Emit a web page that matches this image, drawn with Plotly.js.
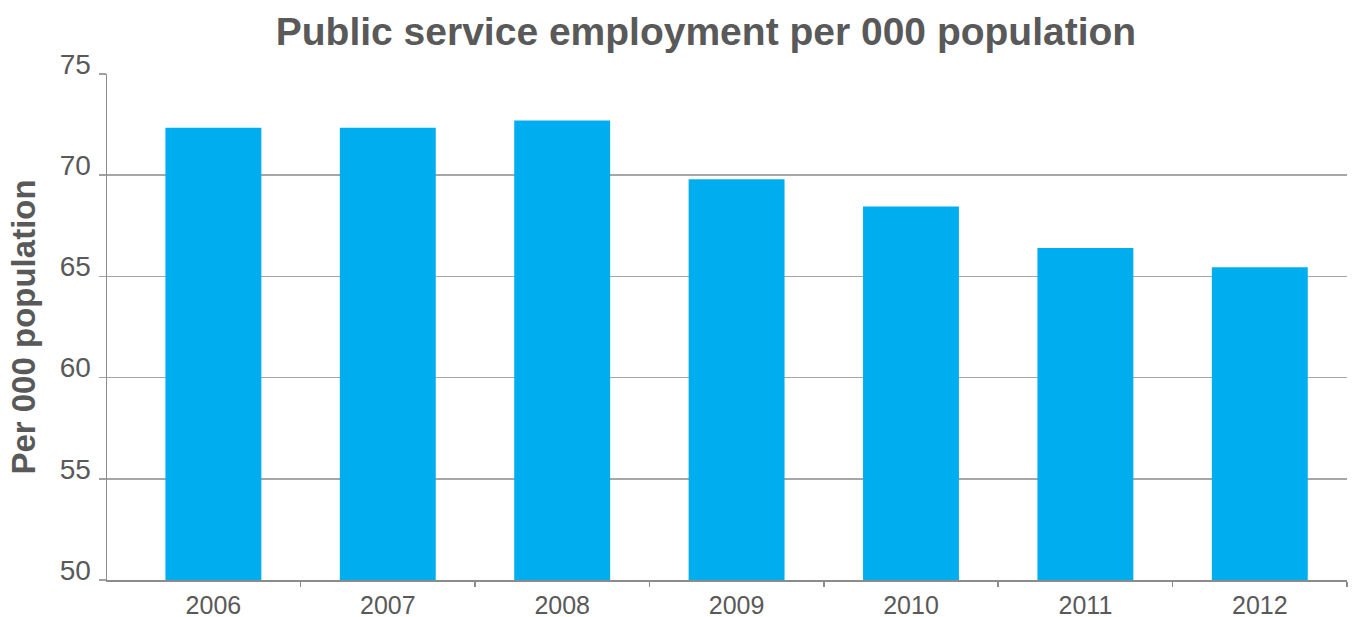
<!DOCTYPE html>
<html>
<head>
<meta charset="utf-8">
<script src="https://cdn.plot.ly/plotly-3.0.1.min.js"></script>
<style>
html,body{margin:0;padding:0;background:#fff;}
#chart{width:1354px;height:617px;}
</style>
</head>
<body>
<div id="chart"></div>
<script>
const years = ["2006", "2007", "2008", "2009", "2010", "2011", "2012"];
const perThousand = [72.35, 72.35, 72.7, 69.8, 68.45, 66.4, 65.45];
const yTicks = [50, 55, 60, 65, 70, 75];

const idx = years.map((_, i) => i);
const boundaries = years.map((_, i) => i + 0.5);
const textGray = "#595959";

const trace = {
  type: "bar",
  x: idx,
  y: perThousand,
  width: 0.55,
  marker: {color: "#00AEEF", line: {width: 0}},
  hoverinfo: "skip"
};

const layout = {
  width: 1354,
  height: 617,
  margin: {l: 107, r: 7, t: 74, b: 37},
  paper_bgcolor: "#ffffff",
  plot_bgcolor: "#ffffff",
  showlegend: false,
  font: {family: "Liberation Sans, Arial, sans-serif", color: textGray},
  title: {
    text: "<b>Public service employment per 000 population</b>",
    font: {size: 39, color: textGray, family: "Liberation Sans, Arial, sans-serif"},
    x: 0.5214, xref: "container", xanchor: "center",
    y: 0.95, yref: "container", yanchor: "middle"
  },
  xaxis: {
    type: "linear",
    range: [-0.61, 6.5],
    tickvals: idx,
    ticktext: years,
    ticks: "",
    ticklabelstandoff: 2,
    tickfont: {size: 25, color: textGray},
    showgrid: false,
    zeroline: false,
    showline: true,
    linecolor: "#8c8c8c",
    linewidth: 1.5,
    minor: {
      tickmode: "array",
      tickvals: boundaries,
      ticks: "outside",
      ticklen: 5,
      tickwidth: 1.5,
      tickcolor: "#8c8c8c",
      showgrid: false
    },
    fixedrange: true
  },
  yaxis: {
    range: [50, 75],
    tickvals: yTicks,
    ticktext: yTicks.map(String),
    ticks: "outside",
    ticklen: 7,
    tickwidth: 1.5,
    tickcolor: "#a0a0a0",
    ticklabelshift: -10,
    ticklabelstandoff: 2,
    tickfont: {size: 28, color: textGray},
    showgrid: true,
    gridcolor: "#a6a6a6",
    gridwidth: 1.5,
    zeroline: false,
    showline: true,
    linecolor: "#8c8c8c",
    linewidth: 1.5,
    title: {
      text: "<b>Per 000 population</b>",
      font: {size: 33, color: textGray},
      standoff: 14
    },
    fixedrange: true
  }
};

Plotly.newPlot("chart", [trace], layout, {displayModeBar: false, staticPlot: true});
</script>
</body>
</html>
